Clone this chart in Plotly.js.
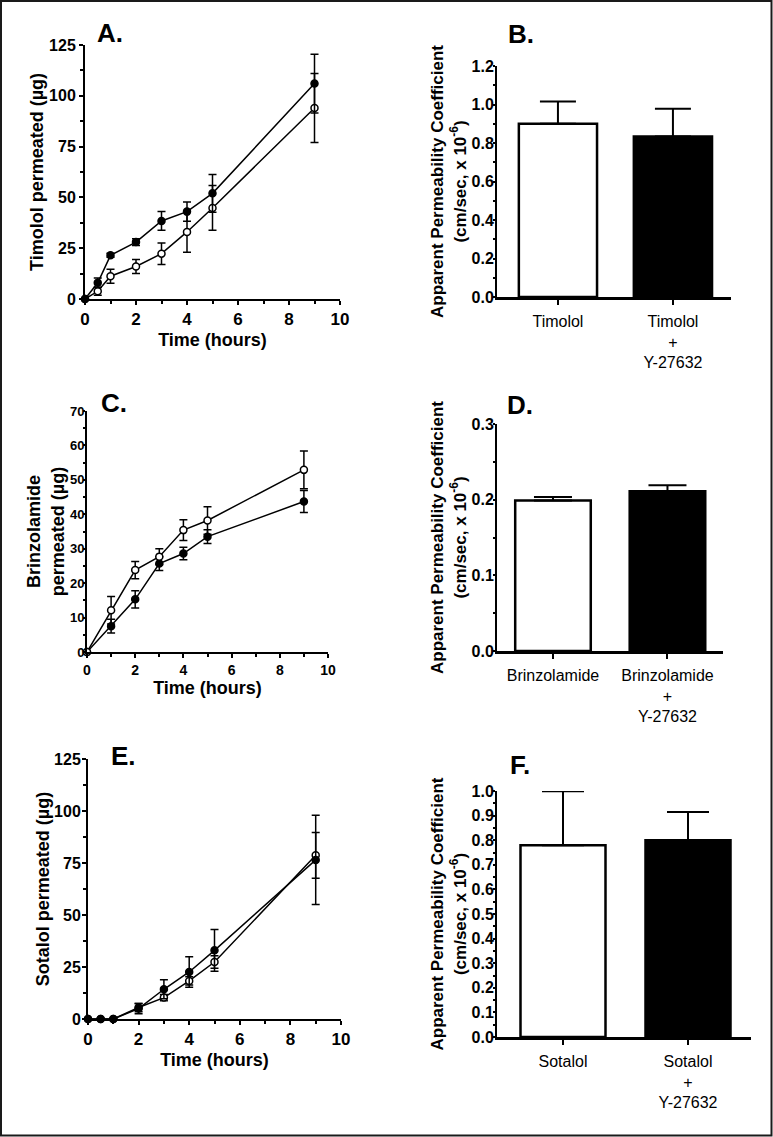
<!DOCTYPE html>
<html>
<head>
<meta charset="utf-8">
<script src="https://cdn.plot.ly/plotly-3.0.1.min.js"></script>
<style>html,body{margin:0;padding:0;background:#fff;}#chart{width:773px;height:1137px;}</style>
</head>
<body>
<div id="chart"></div>
<script>
// ---------- Data ----------
// Panel A: Timolol permeation
const timeA = [0, 0.5, 1, 2, 3, 4, 5, 9];
const timololClosed = [0, 8, 21.5, 28, 38.4, 43, 52, 106];
const timololClosedErr = [0, 2.3, 1, 1.7, 4.6, 4.7, 9.3, 14.5];
const timololOpen = [0, 3.8, 11.2, 16, 22.3, 33, 44.8, 94];
const timololOpenErr = [0, 2, 3.5, 3.5, 5.3, 10, 11, 17];

// Panel B: Timolol Papp
const barLabelsB = ['Timolol', 'Timolol<br>+<br>Y-27632'];
const barValuesB = [0.90, 0.834];
const barErrB = [0.116, 0.144];

// Panel C: Brinzolamide permeation
const timeC = [0, 1, 2, 3, 4, 5, 9];
const brinzOpen = [0, 12.1, 23.8, 27.7, 35.4, 38.2, 52.9];
const brinzOpenErr = [0, 4, 2.5, 2.3, 3, 4, 5.5];
const brinzClosed = [0, 7.5, 15.3, 25.7, 28.6, 33.5, 43.7];
const brinzClosedErr = [0, 2, 2.5, 2, 1.8, 2, 3.2];

// Panel D: Brinzolamide Papp
const barLabelsD = ['Brinzolamide', 'Brinzolamide<br>+<br>Y-27632'];
const barValuesD = [0.199, 0.211];
const barErrD = [0.0045, 0.008];

// Panel E: Sotalol permeation
const timeE = [0, 0.5, 1, 2, 3, 4, 5, 9];
const sotalolClosed = [0, 0, 0, 5, 14.3, 22.6, 33, 76.5];
const sotalolClosedErr = [0, 0, 0, 2.5, 4.6, 7.3, 10, 21.5];
const sotalolOpen = [0, 0, 0, 5.5, 10.3, 18.3, 27.4, 78.7];
const sotalolOpenErr = [0, 0, 0, 2, 1.5, 2, 3, 11];

// Panel F: Sotalol Papp
const barLabelsF = ['Sotalol', 'Sotalol<br>+<br>Y-27632'];
const barValuesF = [0.779, 0.80];
const barErrF = [0.22, 0.115];

const barFill = ['white', 'black'];

// ---------- Helpers ----------
const W = 773, H = 1137;
const FONT = 'Liberation Sans, Arial, Helvetica, sans-serif';
const px = v => v / W;
const py = v => 1 - v / H;

function lineTrace(x, y, err, filled, xa, ya) {
  return {
    type: 'scatter', mode: 'lines+markers', x: x, y: y,
    xaxis: xa, yaxis: ya, cliponaxis: false, showlegend: false,
    line: {color: 'black', width: 1.5},
    marker: {symbol: 'circle', size: 7, color: filled ? 'black' : 'white',
             line: {color: 'black', width: 1.5}},
    error_y: {type: 'data', array: err, visible: true, color: 'black',
              thickness: 1.5, width: 4}
  };
}

function barTrace(labels, vals, err, xa, ya, width, capW) {
  return {
    type: 'bar', x: labels, y: vals, xaxis: xa, yaxis: ya,
    width: width, showlegend: false, cliponaxis: false,
    marker: {color: barFill, line: {color: 'black', width: 2.5}},
    error_y: {type: 'data', array: err, arrayminus: err.map(() => 0),
              symmetric: false, visible: true, color: 'black',
              thickness: 2, width: capW}
  };
}

function boldTicks(ax) {
  ax.tickprefix = '<b>';
  ax.ticksuffix = '</b>';
  return ax;
}

function timeXAxis(domain, anchor, fontSize) {
  return boldTicks({
    domain: domain, anchor: anchor, range: [0, 10], dtick: 2, tick0: 0,
    showline: true, linewidth: 2, linecolor: 'black',
    ticks: 'outside', ticklen: 4, tickwidth: 2, tickcolor: 'black',
    minor: {dtick: 1, ticks: 'outside', ticklen: 3, tickwidth: 2, tickcolor: 'black'},
    showgrid: false, zeroline: false,
    tickfont: {family: FONT, size: fontSize, color: 'black'},
    title: {text: '<b>Time (hours)</b>', standoff: 5,
            font: {family: FONT, size: 18, color: 'black'}}
  });
}

function valYAxis(domain, anchor, range, dtick, minorDtick, title, fontSize, titleSize, standoff, tlen, labelOff, fmt) {
  const ax = boldTicks({
    domain: domain, anchor: anchor, range: range, dtick: dtick, tick0: 0,
    showline: true, linewidth: 2, linecolor: 'black',
    ticks: 'outside', ticklen: tlen, tickwidth: 2, tickcolor: 'black',
    minor: {dtick: minorDtick, ticks: 'outside', ticklen: Math.max(2, tlen - 1), tickwidth: 2, tickcolor: 'black'},
    showgrid: false, zeroline: false, ticklabelstandoff: labelOff,
    tickfont: {family: FONT, size: fontSize, color: 'black'},
    title: {text: title, standoff: standoff,
            font: {family: FONT, size: titleSize, color: 'black'}}
  });
  if (fmt) ax.tickformat = fmt;
  return ax;
}

function catXAxis(domain, anchor, range) {
  return {
    domain: domain, anchor: anchor, type: 'category', range: range,
    showline: true, linewidth: 2.5, linecolor: 'black',
    ticks: 'outside', ticklen: 5, tickwidth: 2, tickcolor: 'black',
    showgrid: false, zeroline: false, ticklabelstandoff: 3,
    tickfont: {family: FONT, size: 16, color: 'black'}
  };
}

const pappTitle = '<b>Apparent Permeability Coefficient</b><br><b>(cm/sec, x 10<sup>-6</sup>)</b>';

// ---------- Traces ----------
const data = [
  lineTrace(timeA, timololOpen, timololOpenErr, false, 'x', 'y'),
  lineTrace(timeA, timololClosed, timololClosedErr, true, 'x', 'y'),
  barTrace(barLabelsB, barValuesB, barErrB, 'x2', 'y2', 0.68, 18),
  lineTrace(timeC, brinzClosed, brinzClosedErr, true, 'x3', 'y3'),
  lineTrace(timeC, brinzOpen, brinzOpenErr, false, 'x3', 'y3'),
  barTrace(barLabelsD, barValuesD, barErrD, 'x4', 'y4', 0.66, 19),
  lineTrace(timeE, sotalolOpen, sotalolOpenErr, false, 'x5', 'y5'),
  lineTrace(timeE, sotalolClosed, sotalolClosedErr, true, 'x5', 'y5'),
  barTrace(barLabelsF, barValuesF, barErrF, 'x6', 'y6', 0.68, 21)
];

// ---------- Layout ----------
const layout = {
  width: W, height: H,
  margin: {l: 0, r: 0, t: 0, b: 0},
  paper_bgcolor: 'white', plot_bgcolor: 'rgba(0,0,0,0)',
  showlegend: false,
  font: {family: FONT, color: 'black'},
  xaxis: timeXAxis([px(85), px(340)], 'y', 17),
  yaxis: valYAxis([py(299), py(45)], 'x', [0, 125], 25, 12.5,
                  '<b>Timolol permeated (µg)</b>', 16, 18, 1, 4, 0),
  xaxis2: catXAxis([px(497), px(731)], 'y2', [-0.53, 1.505]),
  yaxis2: valYAxis([py(297), py(66)], 'x2', [0, 1.2], 0.2, 0.1, pappTitle, 16, 17, 1, 2, -4, '.1f'),
  xaxis3: timeXAxis([px(87), px(328)], 'y3', 14),
  yaxis3: valYAxis([py(652), py(411)], 'x3', [0, 70], 10, 5,
                   '<b>Brinzolamide</b><br><b>permeated (µg)</b>', 13, 18, 1, 2, -4),
  xaxis4: catXAxis([px(497), px(723)], 'y4', [-0.489, 1.485]),
  yaxis4: valYAxis([py(651), py(424)], 'x4', [0, 0.3], 0.1, 0.05, pappTitle, 16, 17, 1, 2, -4, '.1f'),
  xaxis5: timeXAxis([px(88), px(341)], 'y5', 17),
  yaxis5: valYAxis([py(1019), py(759)], 'x5', [0, 125], 25, 12.5,
                   '<b>Sotalol permeated (µg)</b>', 16, 18, 0, 4, -2),
  xaxis6: catXAxis([px(497), px(751)], 'y6', [-0.528, 1.504]),
  yaxis6: valYAxis([py(1037), py(791)], 'x6', [0, 1.0], 0.1, 0.05, pappTitle, 16, 17, 1, 2, -4, '.1f'),
  annotations: [
    ['A.', 110, 33], ['B.', 521, 34], ['C.', 114, 403],
    ['D.', 520, 405], ['E.', 123, 756], ['F.', 520, 765]
  ].map(a => ({
    text: '<b>' + a[0] + '</b>', xref: 'paper', yref: 'paper', x: px(a[1]), y: py(a[2]),
    xanchor: 'center', yanchor: 'middle', showarrow: false,
    font: {family: FONT, size: 26, color: 'black'}
  })),
  shapes: [{
    type: 'rect', xref: 'paper', yref: 'paper',
    x0: px(1), x1: px(771.5), y0: py(1135.5), y1: py(1),
    line: {color: '#1a1a1a', width: 2}
  }]
};

Plotly.newPlot('chart', data, layout, {staticPlot: true, displayModeBar: false});
</script>
</body>
</html>
